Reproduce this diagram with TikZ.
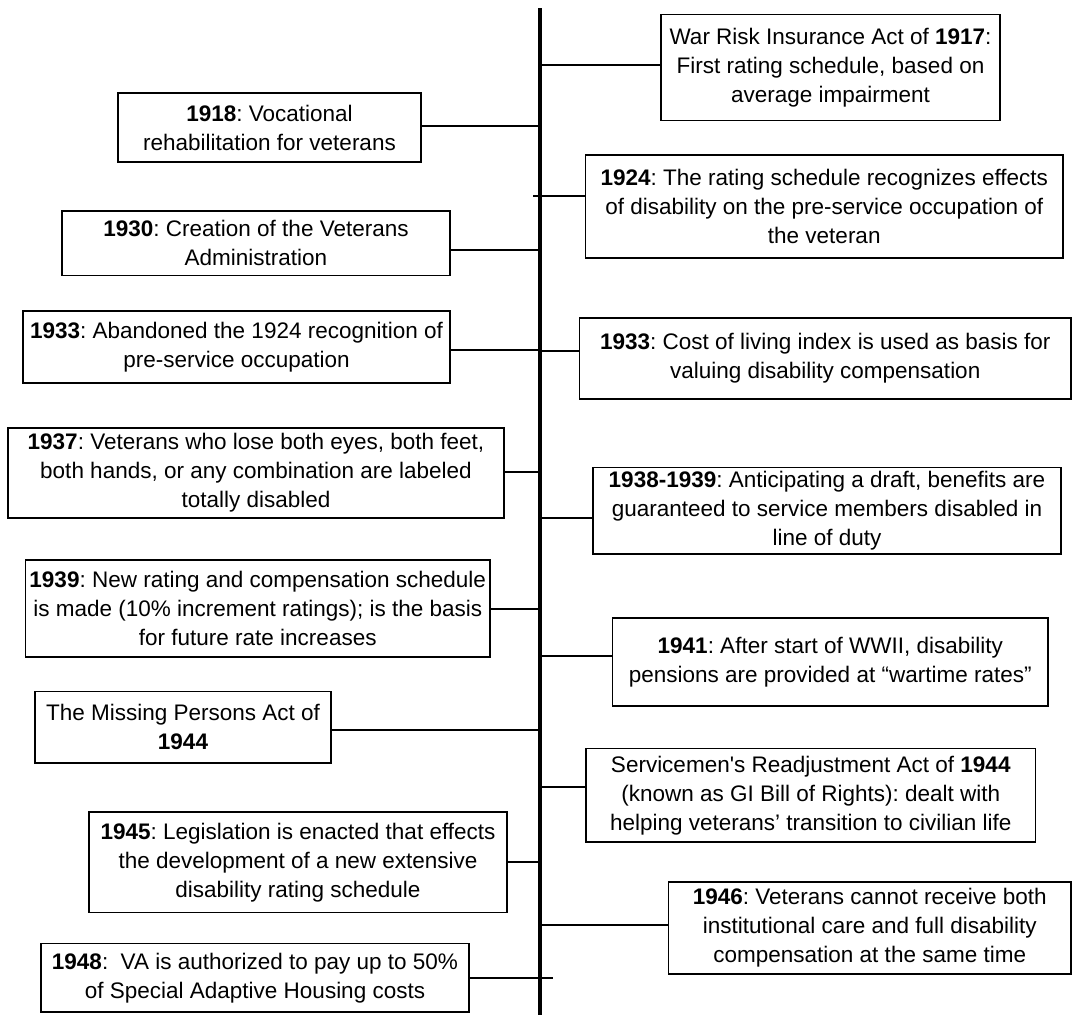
\documentclass[tikz,border=0pt]{standalone}
\usepackage{fontspec}
\setmainfont{Liberation Sans}
\frenchspacing
\tikzset{
  evbox/.style={draw=black, line width=1.4pt, inner sep=0pt, align=center,
    font=\fontsize{22.5}{29}\selectfont\frenchspacing, fill=white},
  conn/.style={draw=black, line width=1.6pt},
  axisline/.style={draw=black, line width=4.5pt}
}
\begin{document}
\begin{tikzpicture}[x=1pt,y=-1pt]
\useasboundingbox (0,0) rectangle (1073,1015);
% timeline
\coordinate (ttop) at (540,8);
\coordinate (tbot) at (540,1015);
% timeline connection points
\coordinate (t1917) at (540,65);
\coordinate (t1918) at (540,126);
\coordinate (t1924) at (533,196);
\coordinate (t1930) at (540,250);
\coordinate (t1933a) at (540,350);
\coordinate (t1933b) at (540,351);
\coordinate (t1937) at (540,472);
\coordinate (t1938) at (540,518);
\coordinate (t1939) at (540,609);
\coordinate (t1941) at (540,656);
\coordinate (t1944a) at (540,730);
\coordinate (t1944b) at (540,787);
\coordinate (t1945) at (540,862);
\coordinate (t1946) at (540,925);
\coordinate (t1948) at (553,978);

% left side
\node[evbox, minimum width=303pt, minimum height=69pt] (y1918) at (269.5,127.5)
  {\textbf{1918}: Vocational\\rehabilitation for veterans};
\node[evbox, minimum width=388pt, minimum height=64.5pt] (y1930) at (256,243.25)
  {\textbf{1930}: Creation of the Veterans\\Administration};
\node[evbox, minimum width=427pt, minimum height=72pt] (y1933a) at (236.5,347)
  {\textbf{1933}: Abandoned the 1924 recognition of\\pre-service occupation};
\node[evbox, minimum width=496pt, minimum height=90pt] (y1937) at (256,473)
  {\textbf{1937}: Veterans who lose both eyes, both feet,\\both hands, or any combination are labeled\\totally disabled};
\node[evbox, minimum width=464.5pt, minimum height=97pt] (y1939) at (257.75,608.5)
  {\textbf{1939}: New rating and compensation schedule\\is made (10\% increment ratings); is the basis\\for future rate increases};
\node[evbox, minimum width=296pt, minimum height=71.5pt] (y1944a) at (183,727.25)
  {The Missing Persons Act of\\\textbf{1944}};
\node[evbox, minimum width=418pt, minimum height=100.5pt] (y1945) at (298,862.25)
  {\textbf{1945}: Legislation is enacted that effects\\the development of a new extensive\\disability rating schedule};
\node[evbox, minimum width=428pt, minimum height=68.5pt] (y1948) at (255,977.75)
  {\textbf{1948}:\ \ VA is authorized to pay up to 50\%\\of Special Adaptive Housing costs};

% right side
\node[evbox, minimum width=339pt, minimum height=106pt] (y1917) at (830.5,67.5)
  {War Risk Insurance Act of \textbf{1917}:\\First rating schedule, based on\\average impairment};
\node[evbox, minimum width=477.5pt, minimum height=103pt] (y1924) at (824.25,206.5)
  {\textbf{1924}: The rating schedule recognizes effects\\of disability on the pre-service occupation of\\the veteran};
\node[evbox, minimum width=491.5pt, minimum height=81pt] (y1933b) at (825.25,358.5)
  {\textbf{1933}: Cost of living index is used as basis for\\valuing disability compensation};
\node[evbox, minimum width=468pt, minimum height=86.5pt] (y1938) at (827,510.75)
  {\textbf{1938-1939}: Anticipating a draft, benefits are\\guaranteed to service members disabled in\\line of duty};
\node[evbox, minimum width=435.5pt, minimum height=88pt] (y1941) at (830.25,662)
  {\textbf{1941}: After start of WWII, disability\\pensions are provided at “wartime rates”};
\node[evbox, minimum width=449.5pt, minimum height=93.5pt] (y1944b) at (810.75,795.25)
  {Servicemen\textquotesingle s Readjustment Act of \textbf{1944}\\(known as GI Bill of Rights): dealt with\\helping veterans’ transition to civilian life};
\node[evbox, minimum width=402.5pt, minimum height=92pt] (y1946) at (869.75,928)
  {\textbf{1946}: Veterans cannot receive both\\institutional care and full disability\\compensation at the same time};

% connectors
\draw[conn] (y1918.east |- t1918) -- (t1918);
\draw[conn] (y1930.east |- t1930) -- (t1930);
\draw[conn] (y1933a.east |- t1933a) -- (t1933a);
\draw[conn] (y1937.east |- t1937) -- (t1937);
\draw[conn] (y1939.east |- t1939) -- (t1939);
\draw[conn] (y1944a.east |- t1944a) -- (t1944a);
\draw[conn] (y1945.east |- t1945) -- (t1945);
\draw[conn] (y1948.east |- t1948) -- (t1948);
\draw[conn] (y1917.west |- t1917) -- (t1917);
\draw[conn] (y1924.west |- t1924) -- (t1924);
\draw[conn] (y1933b.west |- t1933b) -- (t1933b);
\draw[conn] (y1938.west |- t1938) -- (t1938);
\draw[conn] (y1941.west |- t1941) -- (t1941);
\draw[conn] (y1944b.west |- t1944b) -- (t1944b);
\draw[conn] (y1946.west |- t1946) -- (t1946);

\draw[axisline] (ttop) -- (tbot);
\end{tikzpicture}
\end{document}
